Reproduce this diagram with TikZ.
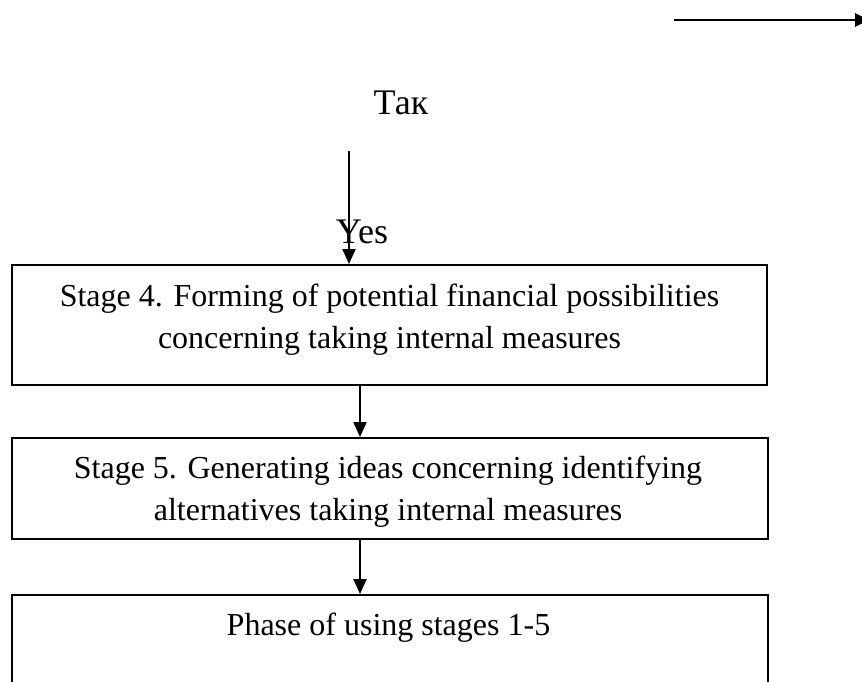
\documentclass[tikz,border=0pt]{standalone}
\usepackage{fontspec}
\setmainfont{Liberation Serif}
\usetikzlibrary{arrows.meta}
\tikzset{
  stagebox/.style={draw, line width=2pt, rectangle, inner sep=0pt},
  txt/.style={anchor=base, inner sep=0pt, font=\fontsize{32}{36}\selectfont},
  bigtxt/.style={anchor=base, inner sep=0pt, font=\fontsize{36}{40}\selectfont},
  conn/.style={line width=2.2pt, -{Triangle[length=15pt,width=13pt]}},
}
\begin{document}
\begin{tikzpicture}[x=1pt,y=1pt]
\useasboundingbox (0,0) rectangle (862,-682);
\clip (0,0) rectangle (862,-682);
% top arrow
\coordinate (ta) at (674,-20);
\coordinate (tb) at (869,-20);
\draw[line width=2.6pt, -{Triangle[length=14pt,width=13pt]}] (ta) -- (tb);
% labels
\node[bigtxt] (tak) at (401,-115) {Так};
\node[bigtxt] (yes) at (362,-243.5) {Yes};
% boxes
\node[stagebox, minimum width=755pt, minimum height=120pt] (box1) at (389.5,-325) {};
\node[txt] (b1l1) at (389.5,-306) {Stage 4. Forming of potential financial possibilities};
\node[txt] (b1l2) at (389.5,-348) {concerning taking internal measures};
\node[stagebox, minimum width=756pt, minimum height=101pt] (box2) at (390,-488.5) {};
\node[txt] (b2l1) at (388,-478) {Stage 5. Generating ideas concerning identifying};
\node[txt] (b2l2) at (388,-520) {alternatives taking internal measures};
\node[stagebox, minimum width=756pt, minimum height=120pt] (box3) at (390,-655) {};
\node[txt] (b3l1) at (388.5,-635) {Phase of using stages 1-5};
% connectors
\coordinate (vs) at (349,-151);
\draw[conn] (vs) -- (vs |- box1.north);
\coordinate (a1) at (360,0);
\draw[conn] (a1 |- box1.south) -- (a1 |- box2.north);
\draw[conn] (a1 |- box2.south) -- (a1 |- box3.north);
\end{tikzpicture}
\end{document}
